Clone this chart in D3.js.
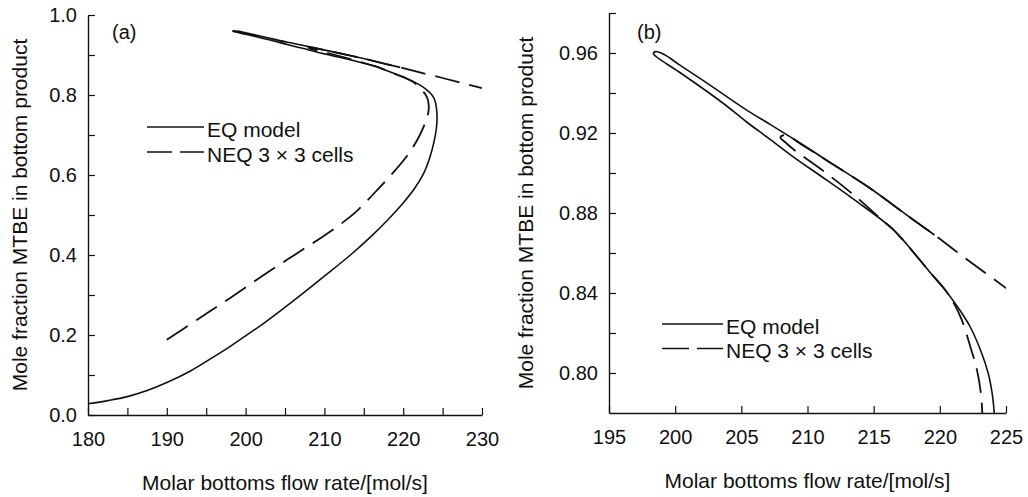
<!DOCTYPE html>
<html>
<head>
<meta charset="utf-8">
<script src="https://cdn.jsdelivr.net/npm/d3@7"></script>
<style>
    html, body { margin: 0; padding: 0; background: #fff; }
    svg { display: block; }
</style>
</head>
<body>
<div id="chart"></div>
<script>
// EQ model, followed along the curve: lower branch -> turning point -> loop tip -> upper branch
const eqFlow = [180, 182.5, 185, 187.5, 190, 193, 196, 198, 200, 202.3, 206.5, 210, 213.3, 216.0, 218.0,
    220.0, 221.5, 222.6, 223.4, 223.9, 224.2, 224.3, 224.2, 224.1, 223.95, 223.65, 223.1, 222.3, 221.4,
    220.4, 219.3, 218.3, 216.5, 213.5, 211, 209, 207.2, 205.4, 203.6, 200.3, 198.6, 198.35, 198.5, 199.2,
    200.3, 202.8, 205.35, 207.2, 209.2, 212, 214.7, 217.7, 219.6];
const eqMtbe = [0.028, 0.036, 0.046, 0.061, 0.081, 0.110, 0.146, 0.171, 0.198, 0.229, 0.292, 0.347, 0.400, 0.448, 0.487,
    0.530, 0.568, 0.604, 0.645, 0.682, 0.715, 0.746, 0.770, 0.781, 0.790, 0.800, 0.811, 0.823, 0.8325,
    0.8415, 0.850, 0.858, 0.8716, 0.8868, 0.8985, 0.9077, 0.9167, 0.9255, 0.935, 0.9505, 0.958, 0.9597, 0.9607, 0.9591,
    0.9542, 0.9432, 0.9317, 0.9242, 0.9160, 0.9040, 0.8925, 0.878, 0.869];

// NEQ 3 x 3 cells
const neqFlow = [190, 194, 198, 202.3, 206.5, 210.7, 214, 217.1, 219, 220.5, 221.8, 222.6, 223.1, 223.25,
    223.2, 223.1, 222.8, 222.3, 221.65, 221.0, 220.3, 219.3, 218.3, 216.5, 215.9, 213.5, 210.9, 209.0,
    208.3, 207.95, 208.3, 209.6, 212, 214.7, 217.7, 219.6, 222, 225, 227.5, 230];
const neqMtbe = [0.188, 0.240, 0.292, 0.350, 0.404, 0.458, 0.508, 0.571, 0.612, 0.648, 0.688, 0.721, 0.748, 0.768,
    0.781, 0.790, 0.8017, 0.8133, 0.8267, 0.8355, 0.8425, 0.850, 0.858, 0.8716, 0.875, 0.889, 0.9025, 0.9115,
    0.9155, 0.9178, 0.9190, 0.9140, 0.9040, 0.8925, 0.878, 0.869, 0.857, 0.8425, 0.830, 0.817];

// ticks
const aXMajor = [180, 190, 200, 210, 220, 230];
const aXMinor = [185, 195, 205, 215, 225];
const aYMajor = [0.0, 0.2, 0.4, 0.6, 0.8, 1.0];
const aYMinor = [0.1, 0.3, 0.5, 0.7, 0.9];
const bXMajor = [195, 200, 205, 210, 215, 220, 225];
const bYMajor = [0.80, 0.84, 0.88, 0.92, 0.96];
const bYMinor = [0.82, 0.86, 0.90, 0.94, 0.98];

const legendLabels = ["EQ model", "NEQ 3 \u00d7 3 cells"];
const xTitle = "Molar bottoms flow rate/[mol/s]";
const yTitle = "Mole fraction MTBE in bottom product";

const FONT = '"Liberation Sans", Arial, Helvetica, sans-serif';
const INK = "#111";

class BifurcationPanel {

    constructor(svg, opts) {
        this.svg = svg;
        Object.assign(this, opts);
        this.initVis();
    }

    initVis() {
        let vis = this;

        vis.x = d3.scaleLinear(vis.xDomain, [vis.box.left, vis.box.right]);
        vis.y = d3.scaleLinear(vis.yDomain, [vis.box.bottom, vis.box.top]);

        vis.g = vis.svg.append("g");

        vis.g.append("clipPath")
            .attr("id", vis.id + "-clip")
            .append("rect")
            .attr("x", vis.box.left)
            .attr("y", vis.box.top)
            .attr("width", vis.box.right - vis.box.left)
            .attr("height", vis.box.bottom - vis.box.top);

        const styleAxis = g => {
            g.attr("font-family", FONT).attr("font-size", 20);
            g.select(".domain").attr("stroke", INK).attr("stroke-width", 1.4);
            g.selectAll(".tick line").attr("stroke", INK).attr("stroke-width", 1.2);
            g.selectAll(".tick text").attr("fill", INK);
        };

        // x axis
        vis.g.append("g")
            .attr("transform", `translate(0,${vis.box.bottom})`)
            .call(d3.axisBottom(vis.x).tickValues(vis.xMajor).tickFormat(d3.format("d"))
                .tickSize(-7).tickSizeOuter(0).tickPadding(17))
            .call(styleAxis);
        if (vis.xMinor.length) {
            vis.g.append("g")
                .attr("transform", `translate(0,${vis.box.bottom})`)
                .call(d3.axisBottom(vis.x).tickValues(vis.xMinor).tickFormat("").tickSize(-7).tickSizeOuter(0))
                .call(styleAxis)
                .call(g => g.select(".domain").remove());
        }

        // y axis
        vis.g.append("g")
            .attr("transform", `translate(${vis.box.left},0)`)
            .call(d3.axisLeft(vis.y).tickValues(vis.yMajor).tickFormat(d3.format(vis.yFormat))
                .tickSize(-7).tickSizeOuter(0).tickPadding(11))
            .call(styleAxis);
        vis.g.append("g")
            .attr("transform", `translate(${vis.box.left},0)`)
            .call(d3.axisLeft(vis.y).tickValues(vis.yMinor).tickFormat("").tickSize(-7).tickSizeOuter(0))
            .call(styleAxis)
            .call(g => g.select(".domain").remove());

        // axis titles
        vis.g.append("text")
            .attr("x", (vis.box.left + vis.box.right) / 2)
            .attr("y", vis.xTitleY)
            .attr("text-anchor", "middle")
            .attr("font-family", FONT)
            .attr("font-size", 21)
            .attr("fill", INK)
            .text(xTitle);

        vis.g.append("text")
            .attr("transform", `translate(${vis.yTitleX},${(vis.box.top + vis.box.bottom) / 2}) rotate(-90)`)
            .attr("text-anchor", "middle")
            .attr("font-family", FONT)
            .attr("font-size", 21)
            .attr("fill", INK)
            .text(yTitle);

        vis.g.append("text")
            .attr("x", vis.tag.x)
            .attr("y", vis.tag.y)
            .attr("font-family", FONT)
            .attr("font-size", 20)
            .attr("fill", INK)
            .text(vis.tag.text);

        vis.updateVis();
    }

    updateVis() {
        let vis = this;

        const line = d3.line()
            .x(d => vis.x(d[0]))
            .y(d => vis.y(d[1]))
            .curve(d3.curveCatmullRom.alpha(0.5));

        const curves = vis.g.append("g")
            .attr("clip-path", `url(#${vis.id}-clip)`)
            .attr("fill", "none")
            .attr("stroke", INK)
            .attr("stroke-width", 1.6)
            .attr("stroke-linejoin", "round");

        curves.append("path")
            .attr("d", line(d3.zip(eqFlow, eqMtbe)));

        curves.append("path")
            .attr("stroke-width", 1.8)
            .attr("stroke-dasharray", "25,10")
            .attr("d", line(d3.zip(neqFlow, neqMtbe)));

        // legend
        const lg = vis.g.append("g")
            .attr("transform", `translate(${vis.legend.x},${vis.legend.y})`);
        const rows = lg.selectAll("g")
            .data(legendLabels)
            .join("g")
            .attr("transform", (d, i) => `translate(0,${i * vis.legend.step})`);
        rows.append("line")
            .attr("x1", 0)
            .attr("x2", vis.legend.len)
            .attr("stroke", INK)
            .attr("stroke-width", 1.5)
            .attr("stroke-dasharray", (d, i) => i === 1 ? vis.legend.dash : null);
        rows.append("text")
            .attr("x", vis.legend.len + 3)
            .attr("y", 9.5)
            .attr("font-family", FONT)
            .attr("font-size", 21)
            .attr("fill", INK)
            .text(d => d);
    }
}

const svg = d3.select("#chart").append("svg")
    .attr("width", 1028)
    .attr("height", 497)
    .attr("viewBox", [0, 0, 1028, 497]);

new BifurcationPanel(svg, {
    id: "pa",
    box: {left: 88, right: 482, top: 15, bottom: 415},
    xDomain: [180, 230], yDomain: [0, 1],
    xMajor: aXMajor, xMinor: aXMinor,
    yMajor: aYMajor, yMinor: aYMinor, yFormat: ".1f",
    xTitleY: 490, yTitleX: 27,
    tag: {text: "(a)", x: 112, y: 39},
    legend: {x: 147, y: 127, step: 25, len: 57, dash: "25,8"}
});

new BifurcationPanel(svg, {
    id: "pb",
    box: {left: 609, right: 1006, top: 13, bottom: 413},
    xDomain: [195, 225], yDomain: [0.78, 0.98],
    xMajor: bXMajor, xMinor: [],
    yMajor: bYMajor, yMinor: bYMinor, yFormat: ".2f",
    xTitleY: 488, yTitleX: 533,
    tag: {text: "(b)", x: 637, y: 39},
    legend: {x: 662, y: 324, step: 24.5, len: 61, dash: "27,8"}
});
</script>
</body>
</html>
